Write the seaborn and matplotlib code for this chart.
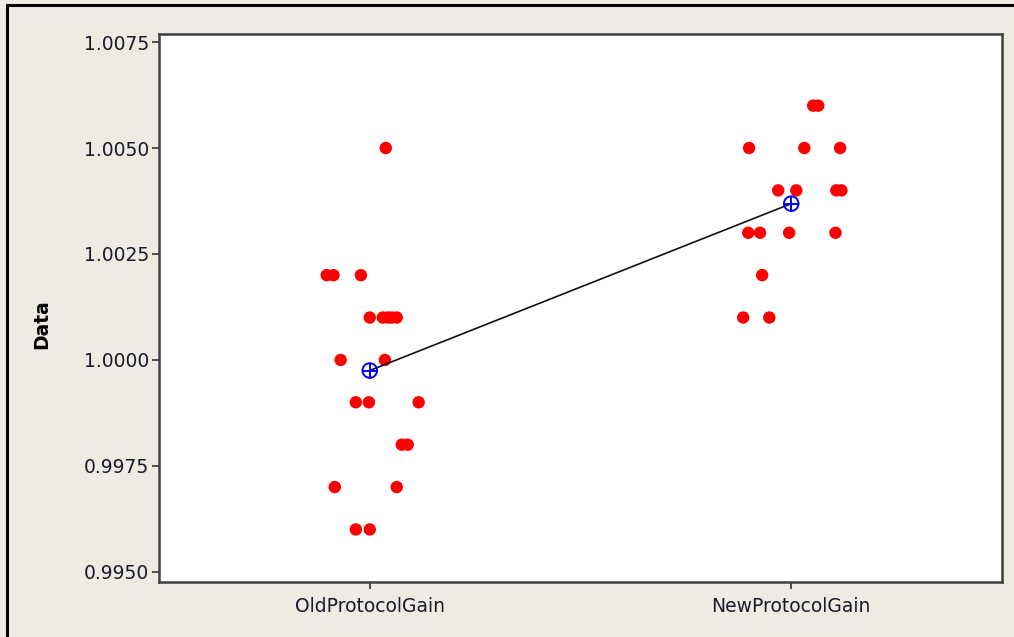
import numpy as np
import pandas as pd
import matplotlib
matplotlib.use("Agg")
import matplotlib.pyplot as plt
import seaborn as sns
from matplotlib.lines import Line2D

# groups on the x axis
groups = ['OldProtocolGain', 'NewProtocolGain']

# individual values (with the horizontal jitter seen there)
old_values = [1.005,
              1.002, 1.002, 1.002,
              1.001, 1.001, 1.001, 1.001, 1.001,
              1.000, 1.000,
              0.999, 0.999, 0.999,
              0.998, 0.998,
              0.997, 0.997,
              0.996, 0.996]
old_jitter = [0.038,
              -0.102, -0.086, -0.021,
              0.0, 0.031, 0.043, 0.052, 0.064,
              -0.069, 0.036,
              -0.033, -0.002, 0.116,
              0.076, 0.090,
              -0.083, 0.064,
              -0.033, 0.0]

new_values = [1.006, 1.006,
              1.005, 1.005, 1.005,
              1.004, 1.004, 1.004, 1.004,
              1.003, 1.003, 1.003, 1.003,
              1.002,
              1.001, 1.001]
new_jitter = [0.052, 0.064,
              -0.100, 0.031, 0.116,
              -0.031, 0.012, 0.107, 0.119,
              -0.102, -0.074, -0.005, 0.105,
              -0.069,
              -0.114, -0.052]

y_ticks = [0.9950, 0.9975, 1.0000, 1.0025, 1.0050, 1.0075]

df = pd.DataFrame({
    'group': [groups[0]] * len(old_values) + [groups[1]] * len(new_values),
    'value': old_values + new_values,
    'jitter': old_jitter + new_jitter,
})
df['pos'] = df['group'].map({g: i for i, g in enumerate(groups)}) + df['jitter']

sns.set_style("ticks")
plt.rcParams['font.family'] = ['DejaVu Sans']

bg = '#EEEBE2'
fig = plt.figure(figsize=(10.14, 6.37), dpi=100, facecolor=bg)
ax = fig.add_axes([159 / 1014, 1 - 582 / 637, 843 / 1014, 548 / 637])
ax.set_facecolor('white')

# individual values
sns.scatterplot(data=df, x='pos', y='value', ax=ax, color='#FF0000',
                s=80, edgecolor='none', linewidth=0, zorder=3, legend=False)

# mean connect line and mean symbols
means = df.groupby('group', sort=False)['value'].mean().reindex(groups)
mean_df = pd.DataFrame({'pos': range(len(groups)), 'mean': means.values})
sns.lineplot(data=mean_df, x='pos', y='mean', ax=ax, color='#111111',
             linewidth=1.2, zorder=4)
ax.scatter(mean_df['pos'], mean_df['mean'], s=110, facecolor='none',
           edgecolor='#0000FF', linewidth=1.4, zorder=5)
ax.scatter(mean_df['pos'], mean_df['mean'], s=130, marker='+',
           color='#0000FF', linewidth=1.4, zorder=5)

ax.set_xlim(-0.5, 1.5)
ax.set_ylim(0.99476, 1.00769)
ax.set_xticks(range(len(groups)))
ax.set_xticklabels(groups)
ax.set_yticks(y_ticks)
ax.set_yticklabels([f'{v:.4f}' for v in y_ticks])

ax.tick_params(axis='both', direction='out', length=5, width=1.2,
               color='#333333', labelsize=13.5, labelcolor='#1a1a2e', pad=2)
ax.tick_params(axis='x', pad=6)
for sp in ax.spines.values():
    sp.set_visible(True)
    sp.set_color('#404040')
    sp.set_linewidth(1.8)

ax.set_xlabel('')
ax.set_ylabel('Data', fontsize=13.5, fontweight='bold', color='black')
ax.yaxis.set_label_coords(-0.128, 0.47)
ax.grid(False)

# outer frame of the graph window
fig.add_artist(Line2D([7 / 1014, 7 / 1014], [0, 1 - 5 / 637],
                      transform=fig.transFigure, color='black', linewidth=2.2))
fig.add_artist(Line2D([7 / 1014, 1], [1 - 5 / 637, 1 - 5 / 637],
                      transform=fig.transFigure, color='black', linewidth=2.2))

fig.savefig('out.png', dpi=100, facecolor=bg)
